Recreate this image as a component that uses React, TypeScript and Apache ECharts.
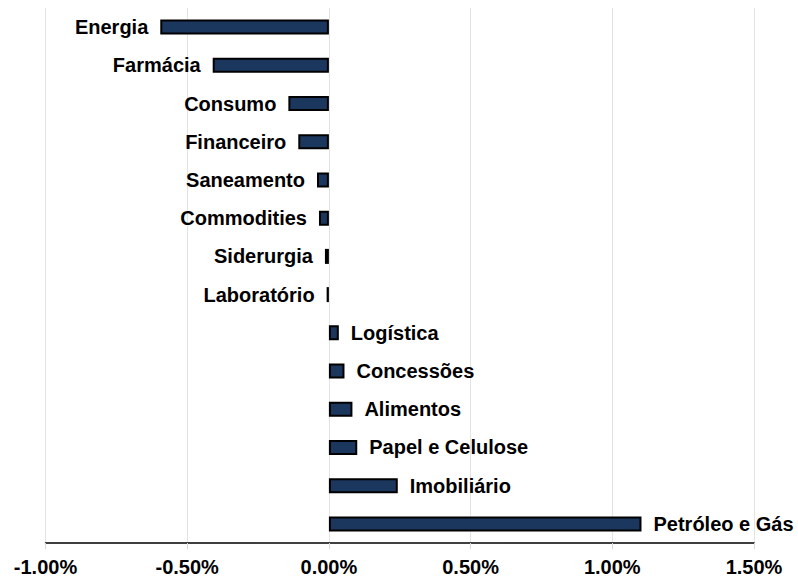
import React, { useEffect, useRef } from "react";
import * as echarts from "echarts";

const categories = [
  "Energia",
  "Farmácia",
  "Consumo",
  "Financeiro",
  "Saneamento",
  "Commodities",
  "Siderurgia",
  "Laboratório",
  "Logística",
  "Concessões",
  "Alimentos",
  "Papel e Celulose",
  "Imobiliário",
  "Petróleo e Gás",
];

const values = [
  -0.595, -0.41, -0.143, -0.108, -0.042, -0.035, -0.014, -0.008, 0.035, 0.055,
  0.083, 0.1, 0.243, 1.103,
];

const xTicks = { min: -1, max: 1.5, interval: 0.5 };

const FONT = "'Liberation Sans', Arial, sans-serif";

export default function App() {
  const ref = useRef<HTMLDivElement>(null);

  useEffect(() => {
    if (!ref.current) return;
    const chart = echarts.init(ref.current, null, { renderer: "svg" });
    const data = values.map((v) => ({
      value: v,
      label: {
        show: true,
        position: v < 0 ? "left" : "right",
      },
    }));
    chart.setOption({
      animation: false,
      backgroundColor: "#ffffff",
      grid: { left: 45.5, right: 44, top: 8, bottom: 34, containLabel: false },
      xAxis: {
        type: "value",
        min: xTicks.min,
        max: xTicks.max,
        interval: xTicks.interval,
        axisLine: { show: true, onZero: false, lineStyle: { color: "#000", width: 1.5 } },
        axisTick: { show: true, length: 6, lineStyle: { color: "#d9d9d9" } },
        splitLine: { show: true, lineStyle: { color: "#e3e3e3", width: 1 } },
        axisLabel: {
          margin: 14,
          color: "#000",
          fontWeight: "bold",
          fontSize: 20,
          fontFamily: FONT,
          formatter: (v: number) => v.toFixed(2) + "%",
        },
      },
      yAxis: {
        type: "category",
        data: categories,
        inverse: true,
        axisLine: { show: false },
        axisTick: { show: false },
        axisLabel: { show: false },
        splitLine: { show: false },
      },
      series: [
        {
          type: "bar",
          data,
          barWidth: 15,
          itemStyle: { color: "#1c375e", borderColor: "#000", borderWidth: 2 },
          label: {
            show: true,
            distance: 12,
            formatter: "{b}",
            color: "#000",
            fontWeight: "bold",
            fontSize: 20,
            fontFamily: FONT,
          },
        },
      ],
    });
    return () => chart.dispose();
  }, []);

  return (
    <div
      ref={ref}
      style={{ position: "fixed", left: 0, top: 0, width: 798, height: 577 }}
    />
  );
}
